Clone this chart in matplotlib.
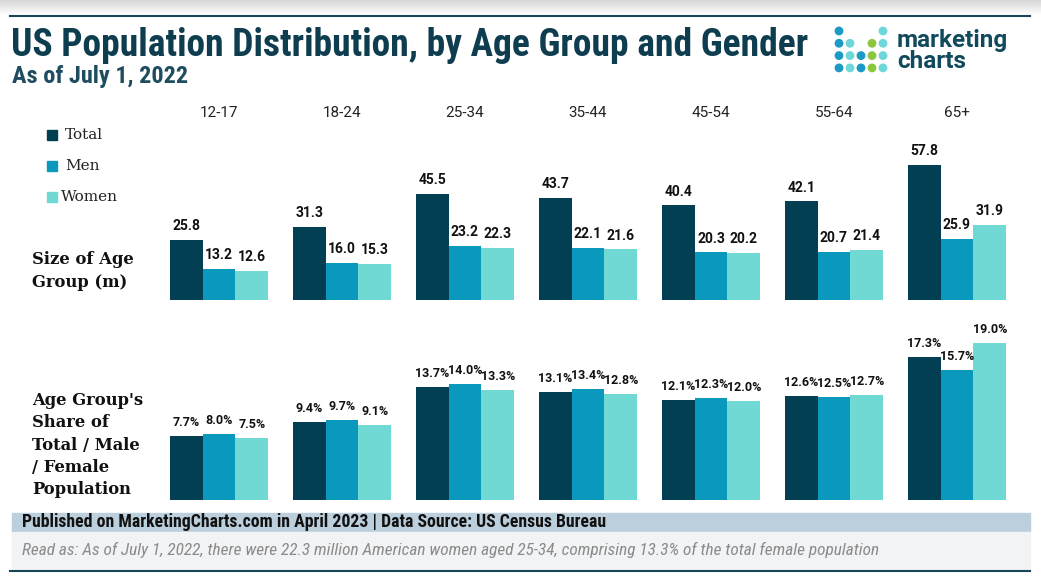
import matplotlib.pyplot as plt
import matplotlib.font_manager as fm
from matplotlib.patches import Rectangle, Ellipse
import numpy as np

# data
age_groups = ['12-17', '18-24', '25-34', '35-44', '45-54', '55-64', '65+']
series = ['Total', 'Men', 'Women']
size_total = [25.8, 31.3, 45.5, 43.7, 40.4, 42.1, 57.8]
size_men = [13.2, 16.0, 23.2, 22.1, 20.3, 20.7, 25.9]
size_women = [12.6, 15.3, 22.3, 21.6, 20.2, 21.4, 31.9]
share_total = [7.7, 9.4, 13.7, 13.1, 12.1, 12.6, 17.3]
share_men = [8.0, 9.7, 14.0, 13.4, 12.3, 12.5, 15.7]
share_women = [7.5, 9.1, 13.3, 12.8, 12.0, 12.7, 19.0]

colors = ['#033f52', '#0a99bd', '#70d9d3']
dark = '#0e3d4f'

W, H = 1041, 585

# pick a condensed face if one exists
names = {f.name for f in fm.fontManager.ttflist}
cond = None
for c in ['DejaVu Serif Condensed', 'Liberation Sans Narrow', 'Roboto Condensed']:
    if c in names:
        cond = c
        break
if cond is None:
    cond = 'DejaVu Serif'
serif = 'DejaVu Serif'
sans = 'Roboto' if 'Roboto' in names else 'DejaVu Sans'

fig = plt.figure(figsize=(W / 100, H / 100), dpi=100)


def fx(x):
    return x / W


def fy(y):
    return 1 - y / H


# top grey shade + rule
shade = np.linspace(0.84, 1.0, 20).reshape(-1, 1)
ax_bg = fig.add_axes([0, fy(15), 1, 15 / H])
ax_bg.imshow(np.dstack([shade] * 3), aspect='auto', extent=[0, 1, 0, 1])
ax_bg.axis('off')
fig.add_artist(plt.Line2D([fx(10), fx(1030)], [fy(16), fy(16)], color='#1b4656', lw=1.5))

fig.text(fx(11), fy(45), 'US Population Distribution, by Age Group and Gender',
         fontsize=27, fontweight='bold', color=dark, family=cond, va='center')
fig.text(fx(12), fy(76), 'As of July 1, 2022', fontsize=17.5, fontweight='bold',
         color='#1d4d5f', family=cond, va='center')

# logo
logo = [['b', None, None, None, 't'],
        ['b', 't', None, 'g', 't'],
        ['b', 't', 'b', 'g', 't'],
        ['b', 't', 'b', 'g', 't']]
lc = {'b': '#1a9ac4', 't': '#6fd6d9', 'g': '#8cc63f'}
for r, row in enumerate(logo):
    for c, k in enumerate(row):
        if k:
            fig.add_artist(Ellipse((fx(839 + 11 * c), fy(31 + 12.3 * r)), 7.4 / W, 7.4 / H,
                                   color=lc[k], transform=fig.transFigure))
fig.text(fx(897), fy(41), 'marketing', fontsize=17.5, fontweight='bold', color='#114a5c',
         family=sans, va='center')
fig.text(fx(897), fy(62), 'charts', fontsize=17.5, fontweight='bold', color='#114a5c',
         family=sans, va='center')

# bar axes
left_px = 219 - 123 * 0.6
width_px = 123 * 7.2
x = np.arange(len(age_groups))
bw = 0.267

ax1 = fig.add_axes([fx(left_px), fy(300), fx(width_px), 140.4 / H])
ax1.set_xlim(-0.6, 6.6)
ax1.set_ylim(0, 60)
ax2 = fig.add_axes([fx(left_px), fy(500), fx(width_px), 165.2 / H])
ax2.set_xlim(-0.6, 6.6)
ax2.set_ylim(0, 20)

for i, (vals, col) in enumerate(zip([size_total, size_men, size_women], colors)):
    bars = ax1.bar(x + (i - 1) * bw, vals, bw, color=col)
    ax1.bar_label(bars, labels=[f'{v:.1f}' for v in vals], padding=5,
                  fontsize=10, fontweight='bold', color='#111111', family=sans)
for i, (vals, col) in enumerate(zip([share_total, share_men, share_women], colors)):
    bars = ax2.bar(x + (i - 1) * bw, vals, bw, color=col)
    ax2.bar_label(bars, labels=[f'{v:.1f}%' for v in vals], padding=5,
                  fontsize=9, fontweight='bold', color='#111111', family=sans)

for ax in (ax1, ax2):
    ax.axis('off')
    for t in ax.texts:
        t.set_clip_on(False)

for i, g in enumerate(age_groups):
    fig.text(fx(219 + 123 * i), fy(113), g, fontsize=11, color='#222222',
             family=sans, ha='center', va='center')

# legend
for i, (s, col) in enumerate(zip(series, colors)):
    yy = 135 + 31 * i
    fig.add_artist(Rectangle((fx(47), fy(yy + 5)), 10 / W, 10 / H, color=col,
                             transform=fig.transFigure))
    fig.text(fx(65 if i < 2 else 61), fy(yy), s, fontsize=11, color='#222222',
             family=serif, va='center')

fig.text(fx(32), fy(271), 'Size of Age\nGroup (m)', fontsize=11.8, fontweight='bold',
         color='#111111', family=serif, va='center', linespacing=1.45)
fig.text(fx(32), fy(445), "Age Group's\nShare of\nTotal / Male\n/ Female\nPopulation",
         fontsize=11.8, fontweight='bold', color='#111111', family=serif, va='center',
         linespacing=1.42)

# footer
fig.add_artist(Rectangle((fx(12), fy(532)), 1018 / W, 19 / H, color='#bccfdc',
                         transform=fig.transFigure))
fig.add_artist(Rectangle((fx(12), fy(570)), 1018 / W, 38 / H, color='#f2f3f5',
                         transform=fig.transFigure))
fig.add_artist(plt.Line2D([fx(10), fx(1030)], [fy(571), fy(571)], color='#1b4656', lw=1.5))
fig.text(fx(22), fy(522), 'Published on MarketingCharts.com in April 2023 | Data Source: US Census Bureau',
         fontsize=12.8, fontweight='bold', color='#111111', family=cond, va='center')
fig.text(fx(22), fy(550), 'Read as: As of July 1, 2022, there were 22.3 million American women aged 25-34, '
         'comprising 13.3% of the total female population',
         fontsize=12.4, style='italic', color='#8a8a8a', family=cond, va='center')

fig.savefig('out.png', dpi=100)
